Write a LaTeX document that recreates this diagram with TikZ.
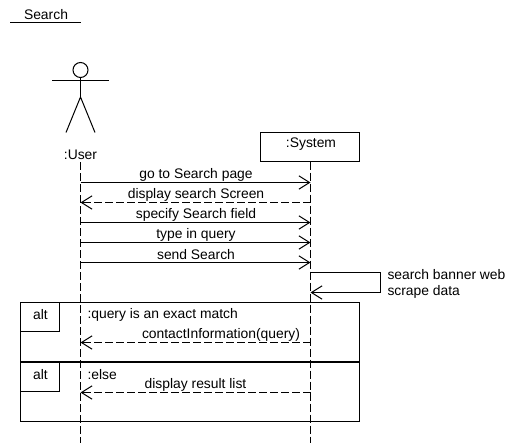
\documentclass[tikz,border=0pt]{standalone}
\usepackage{fontspec}
\setmainfont{Liberation Sans}
\usetikzlibrary{arrows.meta}
\tikzset{
    msg/.style={line width=0.75pt, -{Straight Barb[length=8pt,width=10pt]}},
    reply/.style={msg, dash pattern=on 6pt off 2.25pt},
    lifeline/.style={line width=0.75pt, dash pattern=on 6pt off 2.25pt},
    box/.style={draw, line width=0.75pt, inner sep=0pt},
    label/.style={font=\fontsize{10.4}{12}\selectfont, inner sep=0pt},
}
\begin{document}
\begin{tikzpicture}[x=0.75pt, y=-0.75pt, line width=0.75pt]
    \useasboundingbox (0,0) rectangle (513,443);
    \def\userx{80.5}
    \def\sysx{310.5}
    % title
    \node[label] (title) at (46,14.5) {Search};
    \coordinate (titleL) at (10,22.5);
    \coordinate (titleR) at (81,22.5);
    \draw (titleL) -- (titleR);
    % actor
    \node[draw, circle, minimum size=11.25pt, inner sep=0pt, line width=0.75pt] (head) at (\userx,70) {};
    \coordinate (armL) at (52,80.5);
    \coordinate (armR) at (109,80.5);
    \coordinate (hip) at (\userx,97);
    \coordinate (legL) at (66,132.5);
    \coordinate (legR) at (95,132.5);
    \draw (head) -- (hip);
    \draw (armL) -- (armR);
    \draw (legL) -- (hip) -- (legR);
    \node[label] (User) at (\userx,155) {:User};
    % system
    \node[box, minimum width=74.25pt, minimum height=21.75pt] (System) at (\sysx-1,147) {};
    \node[label] at (311,144.5) {:System};
    % lifelines
    \coordinate (userTop) at (\userx,162);
    \coordinate (userEnd) at (\userx,443);
    \coordinate (sysTop) at (\sysx,161.5);
    \coordinate (sysEnd) at (\sysx,443);
    \draw[lifeline] (userTop) -- (userEnd);
    \draw[lifeline] (sysTop) -- (sysEnd);
    % messages
    \coordinate (u1) at (\userx,182.5);
    \coordinate (s1) at (\sysx,182.5);
    \coordinate (u2) at (\userx,202.5);
    \coordinate (s2) at (\sysx,202.5);
    \coordinate (u3) at (\userx,222.5);
    \coordinate (s3) at (\sysx,222.5);
    \coordinate (u4) at (\userx,242.5);
    \coordinate (s4) at (\sysx,242.5);
    \coordinate (u5) at (\userx,262.5);
    \coordinate (s5) at (\sysx,262.5);
    \draw[msg] (u1) -- (s1);
    \draw[reply] (s2) -- (u2);
    \draw[msg] (u3) -- (s3);
    \draw[msg] (u4) -- (s4);
    \draw[msg] (u5) -- (s5);
    \node[label] at (196,174.5) {go to Search page};
    \node[label] at (196,194.5) {display search Screen};
    \node[label] at (196,214.5) {specify Search field};
    \node[label] at (196,234.5) {type in query};
    \node[label] at (196,254.5) {send Search};
    % self call
    \coordinate (selfA) at (\sysx,272.5);
    \coordinate (selfB) at (380.5,272.5);
    \coordinate (selfC) at (380.5,292.5);
    \coordinate (selfD) at (\sysx,292.5);
    \draw[msg] (selfA) -- (selfB) -- (selfC) -- (selfD);
    \node[label, anchor=west] at (387,274.5) {search banner web};
    \node[label, anchor=west] at (387,291.5) {scrape data};
    % alt frame
    \node[box, minimum width=254.25pt, minimum height=89.25pt] (frame) at (190,362) {};
    \coordinate (divL) at (20.5,362);
    \coordinate (divR) at (359.5,362);
    \draw[line width=1.5pt] (divL) -- (divR);
    \node[box, minimum width=29.25pt, minimum height=21.75pt] (alt1) at (40,317) {};
    \node[box, minimum width=29.25pt, minimum height=21.75pt] (alt2) at (40,377) {};
    \node[label] at (40.5,314.5) {alt};
    \node[label] at (40.5,374.5) {alt};
    \node[label, anchor=west] at (87,314.5) {:query is an exact match};
    \node[label, anchor=west] at (87,374.5) {:else};
    \coordinate (u6) at (\userx,342.5);
    \coordinate (s6) at (\sysx,342.5);
    \coordinate (u7) at (\userx,392.5);
    \coordinate (s7) at (\sysx,392.5);
    \draw[reply] (s6) -- (u6);
    \draw[reply] (s7) -- (u7);
    \node[label] at (221,334.5) {contactInformation(query)};
    \node[label] at (195.5,384.5) {display result list};
\end{tikzpicture}
\end{document}
